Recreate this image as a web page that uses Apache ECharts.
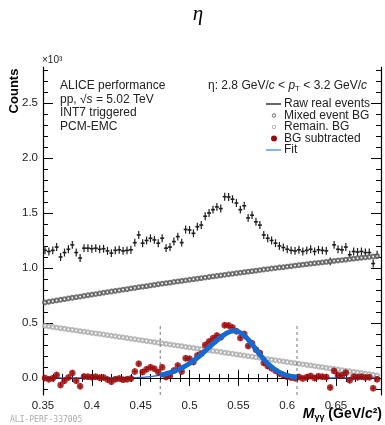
<!DOCTYPE html>
<html lang="en">
  <head>
    <meta charset="utf-8" />
    <title>eta invariant mass</title>
    <script src="https://cdn.jsdelivr.net/npm/echarts@6/dist/echarts.min.js"></script>
    <style>
      html, body { margin: 0; padding: 0; background: #fff; }
      #main { width: 385px; height: 425px; }
    </style>
  </head>
  <body>
    <div id="main"></div>
    <script type="text/javascript">
      // bin centres, GeV/c^2 (4 MeV bins)
      const massBins = [
        0.352, 0.356, 0.360, 0.364, 0.368, 0.372, 0.376, 0.380, 0.384, 0.388,
        0.392, 0.396, 0.400, 0.404, 0.408, 0.412, 0.416, 0.420, 0.424, 0.428,
        0.432, 0.436, 0.440, 0.444, 0.448, 0.452, 0.456, 0.460, 0.464, 0.468,
        0.472, 0.476, 0.480, 0.484, 0.488, 0.492, 0.496, 0.500, 0.504, 0.508,
        0.512, 0.516, 0.520, 0.524, 0.528, 0.532, 0.536, 0.540, 0.544, 0.548,
        0.552, 0.556, 0.560, 0.564, 0.568, 0.572, 0.576, 0.580, 0.584, 0.588,
        0.592, 0.596, 0.600, 0.604, 0.608, 0.612, 0.616, 0.620, 0.624, 0.628,
        0.632, 0.636, 0.640, 0.644, 0.648, 0.652, 0.656, 0.660, 0.664, 0.668,
        0.672, 0.676, 0.680, 0.684, 0.688, 0.692
      ];
      // counts in units of 10^3
      const rawCounts = [
        1.16, 1.15, 1.16, 1.19, 1.10, 1.14, 1.17, 1.21, 1.14, 1.09,
        1.18, 1.18, 1.175, 1.18, 1.17, 1.175, 1.155, 1.135, 1.16, 1.165,
        1.155, 1.16, 1.165, 1.23, 1.30, 1.225, 1.25, 1.27, 1.255, 1.225,
        1.27, 1.18, 1.19, 1.24, 1.285, 1.23, 1.35, 1.345, 1.315, 1.375,
        1.39, 1.47, 1.50, 1.53, 1.555, 1.54, 1.648, 1.645, 1.625, 1.59,
        1.53, 1.565, 1.455, 1.48, 1.42, 1.39, 1.30, 1.27, 1.25, 1.225,
        1.20, 1.186, 1.17, 1.16, 1.155, 1.165, 1.15, 1.16, 1.17, 1.15,
        1.165, 1.16, 1.155, 1.06, 1.21, 1.17, 1.165, 1.19, 1.12, 1.15,
        1.145, 1.15, 1.14, 1.14, 1.04, 1.12
      ];
      const mixedBG = [
        0.687, 0.693, 0.699, 0.705, 0.711, 0.717, 0.723, 0.729, 0.734, 0.740,
        0.746, 0.752, 0.758, 0.763, 0.769, 0.775, 0.781, 0.786, 0.792, 0.797,
        0.803, 0.808, 0.814, 0.819, 0.825, 0.830, 0.835, 0.841, 0.846, 0.852,
        0.857, 0.862, 0.867, 0.873, 0.878, 0.883, 0.888, 0.893, 0.898, 0.903,
        0.908, 0.913, 0.918, 0.923, 0.928, 0.933, 0.938, 0.943, 0.947, 0.952,
        0.957, 0.962, 0.967, 0.971, 0.976, 0.981, 0.986, 0.990, 0.995, 0.999,
        1.004, 1.008, 1.013, 1.017, 1.022, 1.026, 1.030, 1.034, 1.039, 1.043,
        1.047, 1.051, 1.055, 1.060, 1.064, 1.068, 1.072, 1.076, 1.081, 1.085,
        1.089, 1.093, 1.097, 1.100, 1.104, 1.108
      ];
      const remainBG = [
        0.474, 0.469, 0.463, 0.458, 0.453, 0.448, 0.442, 0.437, 0.432, 0.426,
        0.421, 0.416, 0.410, 0.405, 0.400, 0.395, 0.389, 0.384, 0.379, 0.373,
        0.368, 0.363, 0.357, 0.352, 0.347, 0.342, 0.336, 0.331, 0.326, 0.320,
        0.315, 0.310, 0.304, 0.299, 0.294, 0.289, 0.283, 0.278, 0.273, 0.267,
        0.262, 0.257, 0.251, 0.246, 0.241, 0.236, 0.230, 0.225, 0.220, 0.214,
        0.209, 0.204, 0.198, 0.193, 0.188, 0.183, 0.177, 0.172, 0.167, 0.161,
        0.156, 0.151, 0.145, 0.140, 0.135, 0.130, 0.124, 0.119, 0.114, 0.108,
        0.103, 0.098, 0.092, 0.087, 0.082, 0.077, 0.071, 0.066, 0.061, 0.055,
        0.050, 0.045, 0.039, 0.034, 0.029, 0.024
      ];
      const bgSubtracted = [
        -0.001, -0.012, -0.002, 0.027, -0.064, -0.025, 0.005, 0.044, -0.026, -0.076,
        0.013, 0.012, 0.007, 0.012, 0.001, 0.005, -0.015, -0.035, -0.011, -0.005,
        -0.016, -0.011, -0.006, 0.059, 0.128, 0.053, 0.079, 0.098, 0.083, 0.053,
        0.098, 0.008, 0.019, 0.068, 0.113, 0.058, 0.179, 0.174, 0.144, 0.205,
        0.220, 0.300, 0.331, 0.361, 0.386, 0.371, 0.480, 0.477, 0.458, 0.424,
        0.364, 0.399, 0.290, 0.316, 0.256, 0.226, 0.137, 0.108, 0.088, 0.065,
        0.040, 0.027, 0.012, 0.003, -0.002, 0.009, -0.004, 0.007, 0.017, -0.001,
        0.015, 0.011, 0.008, -0.087, 0.064, 0.025, 0.022, 0.048, -0.022, 0.010,
        0.006, 0.012, 0.004, 0.006, -0.093, -0.012
      ];
      const fitMass = [
        0.350, 0.355, 0.360, 0.365, 0.370, 0.375, 0.380, 0.385, 0.390, 0.395,
        0.400, 0.405, 0.410, 0.415, 0.420, 0.425, 0.430, 0.435, 0.440, 0.445,
        0.450, 0.455, 0.460, 0.465, 0.470, 0.475, 0.480, 0.485, 0.490, 0.495,
        0.500, 0.505, 0.510, 0.515, 0.520, 0.525, 0.530, 0.535, 0.540, 0.545,
        0.550, 0.555, 0.560, 0.565, 0.570, 0.575, 0.580, 0.585, 0.590, 0.595,
        0.600, 0.605, 0.610, 0.615, 0.620, 0.625, 0.630, 0.635, 0.640, 0.645,
        0.650, 0.655, 0.660, 0.665, 0.670, 0.675, 0.680, 0.685, 0.690, 0.695
      ];
      const fitValue = [
        0, 0, 0, 0, 0, 0, 0, 0, 0, 0,
        0, 0, 0, 0, 0, 0.001, 0.001, 0.002, 0.002, 0.003,
        0.005, 0.008, 0.012, 0.018, 0.025, 0.035, 0.048, 0.063, 0.082, 0.105,
        0.132, 0.163, 0.198, 0.237, 0.278, 0.318, 0.356, 0.390, 0.416, 0.428,
        0.420, 0.393, 0.350, 0.295, 0.236, 0.180, 0.132, 0.092, 0.061, 0.038,
        0.023, 0.013, 0.007, 0.004, 0.002, 0.001, 0, 0, 0, 0,
        0, 0, 0, 0, 0, 0, 0, 0, 0, 0
      ];
      const intWindow = [0.47, 0.61];
      const windowTop = 0.48;
      const RAW_ERR = 0.036;
      const SUB_ERR = 0.03;
      const HALF_BIN = 0.002;

      const xLabelValues = [0.35, 0.4, 0.45, 0.5, 0.55, 0.6, 0.65];
      const xMinorValues = [
        0.35, 0.36, 0.37, 0.38, 0.39, 0.40, 0.41, 0.42, 0.43, 0.44, 0.45, 0.46,
        0.47, 0.48, 0.49, 0.50, 0.51, 0.52, 0.53, 0.54, 0.55, 0.56, 0.57, 0.58,
        0.59, 0.60, 0.61, 0.62, 0.63, 0.64, 0.65, 0.66, 0.67, 0.68, 0.69
      ];
      const yLabelValues = [0, 0.5, 1, 1.5, 2, 2.5];
      const yMinorValues = [
        -0.1, 0, 0.1, 0.2, 0.3, 0.4, 0.5, 0.6, 0.7, 0.8, 0.9, 1.0, 1.1, 1.2, 1.3,
        1.4, 1.5, 1.6, 1.7, 1.8, 1.9, 2.0, 2.1, 2.2, 2.3, 2.4, 2.5, 2.6, 2.7, 2.8
      ];

      const X_MIN = 0.35, X_MAX = 0.696;
      const Y_MIN = -0.155, Y_MAX = 2.827;
      const FONT = '"Liberation Sans", Arial, Helvetica, sans-serif';

      const myChart = echarts.init(document.getElementById('main'), null, { renderer: 'canvas' });

      const frameLine = { show: true, lineStyle: { color: '#000', width: 1.2 } };
      const makeX = (pos, ticks, len, labels) => ({
        type: 'value', position: pos, min: X_MIN, max: X_MAX,
        axisLine: labels !== undefined || len > 5 ? frameLine : { show: false },
        splitLine: { show: false },
        axisTick: { inside: true, length: len, customValues: ticks, lineStyle: { color: '#000', width: 1 } },
        axisLabel: labels ? {
          customValues: labels, margin: 5, fontSize: 11.5, color: '#222', fontFamily: FONT,
          formatter: (v) => String(+v.toFixed(2))
        } : { show: false }
      });
      const makeY = (pos, ticks, len, labels) => ({
        type: 'value', position: pos, min: Y_MIN, max: Y_MAX,
        axisLine: labels !== undefined || len > 5 ? frameLine : { show: false },
        splitLine: { show: false },
        axisTick: { inside: true, length: len, customValues: ticks, lineStyle: { color: '#000', width: 1 } },
        axisLabel: labels ? {
          customValues: labels, margin: 5, fontSize: 11.5, color: '#222', fontFamily: FONT,
          formatter: (v) => v.toFixed(1)
        } : { show: false }
      });

      const rawData = massBins.map((m, i) => [m, rawCounts[i]]);
      const subData = massBins.map((m, i) => [m, bgSubtracted[i]]);

      const errorBars = (color, err, half, hw, vw) => (params, api) => {
        const x = api.value(0), y = api.value(1);
        const l = api.coord([x - half, y]);
        const r = api.coord([x + half, y]);
        const lo = api.coord([x, y - err]);
        const hi = api.coord([x, y + err]);
        return {
          type: 'group',
          children: [
            { type: 'line', shape: { x1: l[0], y1: l[1], x2: r[0], y2: r[1] }, style: { stroke: color, lineWidth: hw } },
            { type: 'line', shape: { x1: lo[0], y1: lo[1], x2: hi[0], y2: hi[1] }, style: { stroke: color, lineWidth: vw } }
          ]
        };
      };

      const windowLines = intWindow.map((m) => ({
        type: 'line', data: [[m, Y_MIN], [m, windowTop]], showSymbol: false, silent: true,
        lineStyle: { color: '#777', width: 1, type: [3, 3] }, z: 3
      }));

      const text = (x, y, str, extra) => ({
        type: 'text', x: x, y: y,
        style: Object.assign({ text: str, fontSize: 12, fontFamily: FONT, fill: '#222', verticalAlign: 'middle' }, extra || {})
      });

      const option = {
        animation: false,
        grid: { left: 43, right: 4, top: 67, bottom: 30 },
        xAxis: [
          makeX('bottom', xLabelValues, 8, xLabelValues),
          makeX('bottom', xMinorValues, 4),
          makeX('top', xLabelValues, 8, null),
          makeX('top', xMinorValues, 4)
        ],
        yAxis: [
          makeY('left', yLabelValues, 10, yLabelValues),
          makeY('left', yMinorValues, 5),
          makeY('right', yLabelValues, 10, null),
          makeY('right', yMinorValues, 5)
        ],
        series: [
          { type: 'custom', data: rawData, renderItem: errorBars('#1e1e1e', RAW_ERR, HALF_BIN, 1.6, 1.2), clip: true, z: 2 },
          {
            type: 'scatter', data: massBins.map((m, i) => [m, mixedBG[i]]),
            symbol: 'emptyCircle', symbolSize: 3.8,
            itemStyle: { color: '#555', borderColor: '#555', borderWidth: 0.8 }, z: 2
          },
          {
            type: 'scatter', data: massBins.map((m, i) => [m, remainBG[i]]),
            symbol: 'emptyCircle', symbolSize: 3.8,
            itemStyle: { color: '#aaa', borderColor: '#aaa', borderWidth: 0.8 }, z: 2
          },
          ...windowLines,
          {
            type: 'line', data: fitMass.map((m, i) => [m, fitValue[i]]), smooth: true,
            showSymbol: false, lineStyle: { color: '#1d6ad2', width: 1.3 }, z: 4
          },
          { type: 'custom', data: subData, renderItem: errorBars('#b01818', SUB_ERR, HALF_BIN, 1, 1), clip: true, z: 5 },
          {
            type: 'scatter', data: subData, symbol: 'circle', symbolSize: 6.5,
            itemStyle: { color: '#9a0a0a' }, z: 5
          },
          {
            type: 'line',
            data: fitMass.map((m, i) => [m, fitValue[i]]).filter((d) => d[0] >= intWindow[0] && d[0] <= intWindow[1]),
            smooth: true, showSymbol: false, lineStyle: { color: '#1569d3', width: 5 }, z: 6
          }
        ],
        graphic: [
          text(198, 14, 'η', { fontSize: 21, fontStyle: 'italic', fontFamily: '"Liberation Serif", "DejaVu Serif", serif', fill: '#000', align: 'center' }),
          text(42, 60, '×10³', { fontSize: 10 }),
          {
            type: 'text', x: 14, y: 91, rotation: Math.PI / 2,
            style: { text: 'Counts', fontSize: 13, fontWeight: 'bold', fontFamily: FONT, fill: '#000', align: 'center', verticalAlign: 'middle' }
          },
          {
            type: 'text', x: 382, y: 414,
            style: {
              text: '{m|M}{s|γγ}{b| (GeV/}{c|c}{b|²)}', align: 'right', verticalAlign: 'middle',
              rich: {
                m: { fontSize: 14, fontWeight: 'bold', fontStyle: 'italic', fontFamily: FONT, fill: '#000', lineHeight: 16 },
                s: { fontSize: 9, fontWeight: 'bold', fontFamily: FONT, fill: '#000', lineHeight: 8, verticalAlign: 'bottom' },
                b: { fontSize: 14, fontWeight: 'bold', fontFamily: FONT, fill: '#000', lineHeight: 16 },
                c: { fontSize: 14, fontWeight: 'bold', fontStyle: 'italic', fontFamily: FONT, fill: '#000', lineHeight: 16 }
              }
            }
          },
          text(10, 420, 'ALI-PERF-337005', { fontSize: 8, fontFamily: '"DejaVu Sans Mono", monospace', fill: '#aaa' }),
          text(60, 86, 'ALICE performance'),
          {
            type: 'text', x: 60, y: 100,
            style: {
              text: 'pp, √{i|s} = 5.02 TeV', fontSize: 12, fontFamily: FONT, fill: '#222', verticalAlign: 'middle',
              rich: { i: { fontSize: 12, fontStyle: 'italic', fontFamily: FONT, fill: '#222' } }
            }
          },
          text(60, 113, 'INT7 triggered'),
          text(60, 127, 'PCM-EMC'),
          {
            type: 'text', x: 367, y: 86,
            style: {
              text: 'η: 2.8 GeV/{i|c} < {i|p}{s|T} < 3.2 GeV/{i|c}', fontSize: 12, fontFamily: FONT, fill: '#222',
              align: 'right', verticalAlign: 'middle',
              rich: {
                i: { fontSize: 12, fontStyle: 'italic', fontFamily: FONT, fill: '#222', lineHeight: 14 },
                s: { fontSize: 8, fontFamily: FONT, fill: '#222', lineHeight: 6, verticalAlign: 'bottom' }
              }
            }
          },
          { type: 'line', shape: { x1: 266, y1: 104, x2: 281, y2: 104 }, style: { stroke: '#333', lineWidth: 1.5 } },
          text(284, 104, 'Raw real events'),
          { type: 'circle', shape: { cx: 274, cy: 115.5, r: 1.7 }, style: { fill: '#fff', stroke: '#555', lineWidth: 0.9 } },
          text(284, 115.5, 'Mixed event BG'),
          { type: 'circle', shape: { cx: 274, cy: 127, r: 1.7 }, style: { fill: '#fff', stroke: '#aaa', lineWidth: 0.9 } },
          text(284, 127, 'Remain. BG'),
          { type: 'circle', shape: { cx: 274, cy: 138.5, r: 3 }, style: { fill: '#9a0a0a' } },
          text(284, 138.5, 'BG subtracted'),
          { type: 'line', shape: { x1: 266, y1: 150, x2: 281, y2: 150 }, style: { stroke: '#5c9ee0', lineWidth: 1.5 } },
          text(284, 150, 'Fit')
        ]
      };
      myChart.setOption(option);
    </script>
  </body>
</html>
